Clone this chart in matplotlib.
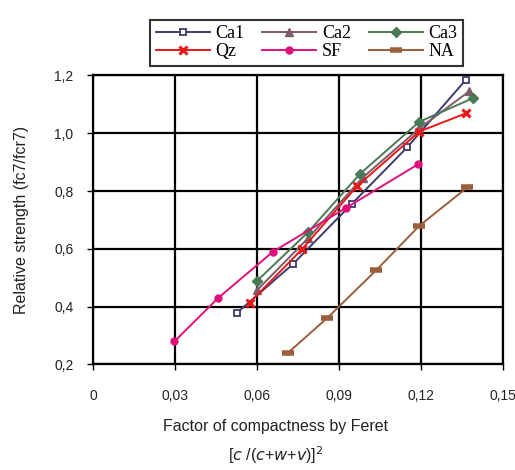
import matplotlib
matplotlib.use("Agg")
import matplotlib.pyplot as plt
from matplotlib.ticker import FuncFormatter

ca1_x = [0.0527, 0.0731, 0.0946, 0.1149, 0.1364]
ca1_y = [0.379, 0.547, 0.755, 0.951, 1.185]
ca2_x = [0.0600, 0.0786, 0.0987, 0.1194, 0.1376]
ca2_y = [0.457, 0.636, 0.847, 1.017, 1.145]
ca3_x = [0.0600, 0.0786, 0.0975, 0.1194, 0.1389]
ca3_y = [0.489, 0.657, 0.858, 1.040, 1.121]
qz_x = [0.0573, 0.0765, 0.0966, 0.1194, 0.1364]
qz_y = [0.414, 0.599, 0.817, 1.006, 1.069]
sf_x = [0.0298, 0.0459, 0.0658, 0.0926, 0.1188]
sf_y = [0.280, 0.431, 0.590, 0.742, 0.892]
na_x = [0.0713, 0.0857, 0.1036, 0.1194, 0.1370]
na_y = [0.240, 0.361, 0.526, 0.680, 0.813]

x_ticks = [0, 0.03, 0.06, 0.09, 0.12, 0.15]
y_ticks = [0.2, 0.4, 0.6, 0.8, 1.0, 1.2]

fig = plt.figure(figsize=(5.15, 4.7), dpi=100)
ax = fig.add_axes([0.1806, 0.2245, 0.7961, 0.6149])

series = [
    ("Ca1", ca1_x, ca1_y, "#3c3c6e", "s", dict(markerfacecolor="white", markersize=5, markeredgewidth=1.3)),
    ("Ca2", ca2_x, ca2_y, "#7e5a6a", "^", dict(markersize=6)),
    ("Ca3", ca3_x, ca3_y, "#4a7a55", "D", dict(markersize=5)),
    ("Qz", qz_x, qz_y, "#e81818", "x", dict(markersize=6, markeredgewidth=2.2)),
    ("SF", sf_x, sf_y, "#e0107a", "o", dict(markersize=5)),
    ("NA", na_x, na_y, "#9a5e3a", "_", dict(markersize=8, markeredgewidth=4)),
]
handles = {}
for name, xs, ys, col, mk, kw in series:
    (h,) = ax.plot(xs, ys, color=col, marker=mk, lw=1.4, label=name, zorder=3, **kw)
    handles[name] = h

ax.set_xlim(0, 0.15)
ax.set_ylim(0.2, 1.2)
ax.set_xticks(x_ticks)
ax.set_yticks(y_ticks)
ax.xaxis.set_major_formatter(FuncFormatter(lambda v, p: "0" if v == 0 else f"{v:.2f}".replace(".", ",")))
ax.yaxis.set_major_formatter(FuncFormatter(lambda v, p: f"{v:.1f}".replace(".", ",")))
ax.grid(True, color="black", lw=1.6)
for s in ax.spines.values():
    s.set_color("black")
    s.set_linewidth(1.6)
ax.tick_params(direction="out", length=4, width=1, labelsize=10)
ax.tick_params(axis="x", pad=14)
ax.tick_params(axis="y", pad=10)
for lbl in ax.get_xticklabels() + ax.get_yticklabels():
    lbl.set_family("Liberation Sans")
    lbl.set_color("#222222")

ax.set_ylabel("Relative strength (fc7/fcr7)", family="Liberation Sans", fontsize=11.5, labelpad=18, color="#222222")
fig.text(0.535, 0.093, "Factor of compactness by Feret", family="Liberation Sans", fontsize=11.5,
         ha="center", va="center", color="#222222")
fig.text(0.535, 0.032, r"[$\it{c}$ /($\it{c}$+$\it{w}$+$\it{v}$)]$^2$", family="Liberation Sans", fontsize=11.5,
         ha="center", va="center", color="#222222")

order = ["Ca1", "Qz", "Ca2", "SF", "Ca3", "NA"]
leg = fig.legend([handles[n] for n in order], order, loc="upper left", bbox_to_anchor=(0.274, 0.977), ncol=3,
                 frameon=True, fancybox=False,
                 prop={"family": "Liberation Serif", "size": 13}, handlelength=3.0, columnspacing=1.0,
                 handletextpad=0.3, labelspacing=0.05, borderpad=0.3, edgecolor="black")
leg.get_frame().set_linewidth(1.5)

fig.savefig("out.png", dpi=100)
